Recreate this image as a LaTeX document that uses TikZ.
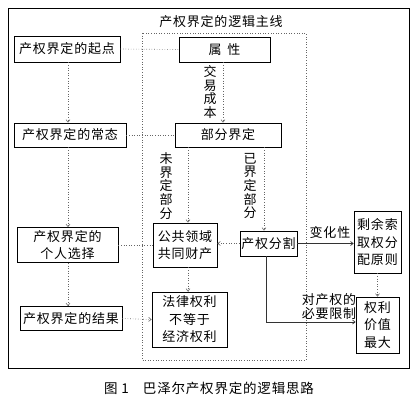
\documentclass[tikz,border=0pt]{standalone}
\usepackage{fontspec}
\newfontfamily\cjk[LetterSpace=6]{Noto Sans CJK SC}
\usetikzlibrary{arrows.meta}
\tikzset{
  bx/.style={draw=black, line width=0.8pt, align=center, inner sep=0pt, font=\cjk\fontsize{13}{17.5}\selectfont},
  dl/.style={draw=black!60, line width=0.6pt, dotted},
  sl/.style={draw=black!80, line width=0.7pt},
  tip/.style={-{Straight Barb[length=2.5pt,width=4pt]}},
  lbl/.style={font=\cjk\fontsize{13}{13.6}\selectfont, align=center, inner sep=0pt},
}
\begin{document}
\begin{tikzpicture}[x=1pt,y=-1pt]
\useasboundingbox (0,0) rectangle (417,404);
\draw[line width=0.8pt] (8,8) rectangle (409,368);
\draw[dl] (142,33) rectangle (306,360);
\node[lbl] (title) at (221,22) {产权界定的逻辑主线};
% left column
\node[bx, minimum width=106, minimum height=26] (qidian) at (67,49) {产权界定的起点};
\node[bx, minimum width=112, minimum height=24] (changtai) at (70,135) {产权界定的常态};
\node[bx, minimum width=101, minimum height=35] (geren) at (67.5,245) {产权界定的\\个人选择};
\node[bx, minimum width=102, minimum height=24] (jieguo) at (71,318.5) {产权界定的结果};
% middle
\node[bx, minimum width=91, minimum height=25] (shuxing) at (224.5,49.5) {属\hspace{6pt}性};
\node[bx, minimum width=106, minimum height=24] (bufen) at (228,135) {部分界定};
\node[bx, minimum width=64, minimum height=44] (gonggong) at (185,245) {公共领域\\共同财产};
\node[bx, minimum width=57, minimum height=25] (fenge) at (268.5,243.5) {产权分割};
\node[bx, minimum width=75, minimum height=55] (falv) at (189.5,319.5) {法律权利\\不等于\\经济权利};
% right
\node[bx, minimum width=47, minimum height=62] (shengyu) at (377.5,242) {剩余索\\取权分\\配原则};
\node[bx, minimum width=43, minimum height=56] (jiazhi) at (377.5,325) {权利\\价值\\最大};
% labels
\node[lbl] (l1) at (210,92) {交\\易\\成\\本};
\node[lbl] (l2) at (166,186) {未\\界\\定\\部\\分};
\node[lbl] (l3) at (250,186) {已\\界\\定\\部\\分};
\node[lbl] (l4) at (330,233) {变化性};
\node[lbl, font=\cjk\fontsize{13}{14}\selectfont] (l5) at (329,307) {对产权的\\必要限制};
\node[lbl, font=\cjk\fontsize{13.5}{14}\selectfont] (cap) at (209,388) {图 1\hspace{14pt}巴泽尔产权界定的逻辑思路};
% connectors
\draw[dl] (qidian.east) -- (shuxing.west);
\draw[dl] (changtai.east) -- (bufen.west);
\draw[dl] (geren.east) -- (gonggong.west);
\draw[dl,tip] (jieguo.east) -- (falv.west);
\draw[dl,tip] (qidian.south -| 68,0) -- (changtai.north -| 68,0);
\draw[dl,tip] (changtai.south -| 68,0) -- (geren.north -| 68,0);
\draw[dl,tip] (geren.south -| 68,0) -- (jieguo.north -| 68,0);
\draw[dl,tip] (shuxing.south -| 223,0) -- (bufen.north -| 223,0);
\draw[dl,tip] (bufen.south -| 188,0) -- (gonggong.north -| 188,0);
\draw[dl,tip] (bufen.south -| 264,0) -- (fenge.north -| 264,0);
\draw[dl,tip] (fenge.west) -- (gonggong.east |- fenge.west);
\draw[dl,tip] (gonggong.south -| 188,0) -- (falv.north -| 188,0);
\draw[sl,tip] (fenge.east) -- (shengyu.west |- fenge.east);
\draw[dl,tip] (shengyu.south) -- (jiazhi.north);
\coordinate (corner) at (266,322);
\draw[sl,tip] (fenge.south -| corner) -- (corner) -- (jiazhi.west |- corner);
\end{tikzpicture}
\end{document}
